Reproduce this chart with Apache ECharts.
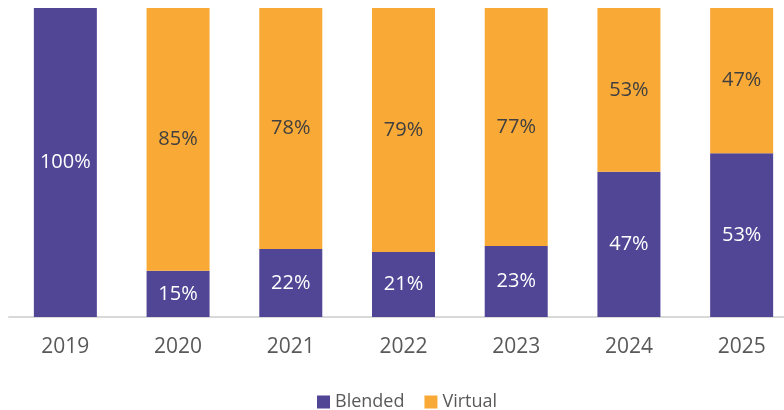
<!DOCTYPE html>
<html><head><meta charset="utf-8">
<script src="https://cdn.jsdelivr.net/npm/echarts@6/dist/echarts.min.js"></script>
<style>html,body{margin:0;padding:0;background:#fff}#c{width:784px;height:410px}</style>
</head><body><div id="c"></div>
<script>
const categories = ['2019','2020','2021','2022','2023','2024','2025'];
const blended = [100,15,22,21,23,47,53];
const virtual = [0,85,78,79,77,53,47];
const chart = echarts.init(document.getElementById('c'));
const font = '"Open Sans", sans-serif';
chart.setOption({
  animation:false,
  grid:{left:9,width:789,top:8,height:309,outerBoundsMode:'none'},
  legend:{top:388,left:312,itemWidth:13,itemHeight:13,itemGap:20,
    textStyle:{fontFamily:font,fontSize:18,color:'#595959'},
    icon:'rect',data:['Blended','Virtual']},
  xAxis:{type:'category',data:categories,
    axisLine:{lineStyle:{color:'#d9d9d9',width:2}},axisTick:{show:false},
    axisLabel:{fontFamily:font,fontSize:21,color:'#595959',margin:20}},
  yAxis:{type:'value',min:0,max:100,show:false,splitLine:{show:false}},
  series:[
    {name:'Blended',type:'bar',stack:'s',data:blended,barWidth:63,
     itemStyle:{color:'#514596'},
     label:{show:true,position:'inside',formatter:'{c}%',fontFamily:font,fontSize:20,color:'#ffffff'}},
    {name:'Virtual',type:'bar',stack:'s',data:virtual,barWidth:63,
     itemStyle:{color:'#F9A935'},
     label:{show:true,position:'inside',fontFamily:font,fontSize:20,color:'#404040',
       formatter:p=>p.value>0?p.value+'%':''}}
  ]
});
</script></body></html>
